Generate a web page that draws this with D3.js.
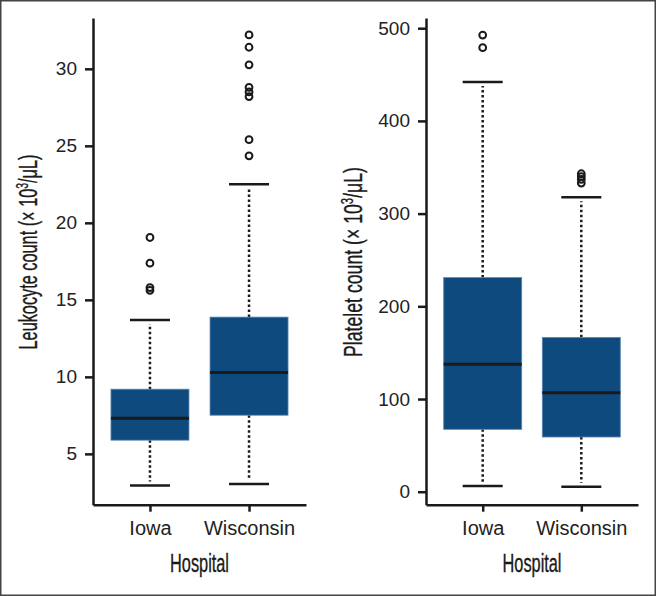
<!DOCTYPE html>
<html>
<head>
<meta charset="utf-8">
<script src="https://cdn.jsdelivr.net/npm/d3@7"></script>
<style>
  body { margin: 0; background: #fff; }
  svg { display: block; }
  .axis path, .axis line { stroke: #1a1a1a; stroke-width: 2.5; }
  .axis text { font-family: "Liberation Sans", Arimo, Arial, Helvetica, sans-serif; fill: #222; }
  .axis-title { font-family: "Liberation Sans", Arial, sans-serif; fill: #1a1a1a; stroke: #1a1a1a; stroke-width: 0.35; }
</style>
</head>
<body>
<svg></svg>
<script>
// Box plots: leukocyte and platelet counts by hospital

// Data
var hospitals = ["Iowa", "Wisconsin"];

var leukoLow    = [2.95, 3.05],
    leukoQ1     = [5.89, 7.51],
    leukoMedian = [7.32, 10.28],
    leukoQ3     = [9.2, 13.88],
    leukoHigh   = [13.7, 22.5];
var leukoOutliers = [
  [19.05, 17.38, 15.8, 15.62],
  [32.2, 31.4, 30.26, 28.8, 28.5, 28.2, 25.4, 24.35]
];
var leukoTicks = [5, 10, 15, 20, 25, 30];

var plateletLow    = [6.1, 5.4],
    plateletQ1     = [67.3, 59],
    plateletMedian = [137.4, 106.8],
    plateletQ3     = [231, 166.5],
    plateletHigh   = [442, 317.6];
var plateletOutliers = [
  [492.6, 479],
  [343, 340, 337, 333]
];
var plateletTicks = [0, 100, 200, 300, 400, 500];

// Layout
var svgWidth = 656,
    svgHeight = 596,
    plotTop = 18,
    plotBottom = 504.7,
    boxWidth = 78,
    capWidth = 40,
    titleSize = 25,
    boxColor = "#0f4a7f",
    inkColor = "#1a1a1a";

var svg = d3.select("svg")
  .attr("width", svgWidth)
  .attr("height", svgHeight);

// thin frame round the figure
svg.append("rect")
  .attr("x", 0.75).attr("y", 0.75)
  .attr("width", svgWidth - 1.5).attr("height", svgHeight - 1.5)
  .attr("fill", "none")
  .attr("stroke", "#444")
  .attr("stroke-width", 1.5);

drawPanel({
  left: 93, right: 306,
  domain: [1.7, 33.3],
  ticks: leukoTicks,
  low: leukoLow, q1: leukoQ1, median: leukoMedian, q3: leukoQ3, high: leukoHigh,
  outliers: leukoOutliers,
  titleX: 37, titleY: 252, titleLen: 195,
  title: "Leukocyte count (\u00d7 10"
});

drawPanel({
  left: 426, right: 638,
  domain: [-14, 511],
  ticks: plateletTicks,
  low: plateletLow, q1: plateletQ1, median: plateletMedian, q3: plateletQ3, high: plateletHigh,
  outliers: plateletOutliers,
  titleX: 362, titleY: 262, titleLen: 190,
  title: "Platelet count (\u00d7 10"
});

// squeeze a text to a given width (the original uses a narrow face)
function fitWidth(sel, len, baseTransform) {
  var w = sel.node().getBBox().width;
  sel.attr("transform", baseTransform + " scale(" + (len / w) + ",1)");
}

function drawPanel(cfg) {
  var y = d3.scaleLinear().domain(cfg.domain).range([plotBottom, plotTop]);
  var x = d3.scalePoint().domain(hospitals).range([cfg.left, cfg.right]).padding(0.575);

  var g = svg.append("g");

  // y axis
  g.append("g")
    .attr("class", "axis")
    .attr("transform", "translate(" + cfg.left + ",0)")
    .call(d3.axisLeft(y).tickValues(cfg.ticks).tickSize(8).tickSizeOuter(0).tickPadding(8))
    .selectAll("text").style("font-size", "19px");

  // x axis
  g.append("g")
    .attr("class", "axis")
    .attr("transform", "translate(0," + plotBottom + ")")
    .call(d3.axisBottom(x).tickSize(7).tickSizeOuter(0).tickPadding(9))
    .selectAll("text").style("font-size", "20px");

  var stats = hospitals.map(function (h, i) {
    return {
      name: h, low: cfg.low[i], q1: cfg.q1[i], median: cfg.median[i],
      q3: cfg.q3[i], high: cfg.high[i], outliers: cfg.outliers[i]
    };
  });

  var boxes = g.selectAll(".box")
    .data(stats)
    .enter()
      .append("g")
      .classed("box", true)
      .attr("transform", function (d) { return "translate(" + x(d.name) + ",0)"; });

  // dotted whiskers
  boxes.append("line")
    .attr("y1", function (d) { return y(d.q3); })
    .attr("y2", function (d) { return y(d.high) + 4; })
    .attr("stroke", inkColor).attr("stroke-width", 2.5).attr("stroke-dasharray", "2.5,2.5");
  boxes.append("line")
    .attr("y1", function (d) { return y(d.q1); })
    .attr("y2", function (d) { return y(d.low) - 4; })
    .attr("stroke", inkColor).attr("stroke-width", 2.5).attr("stroke-dasharray", "2.5,2.5");

  // caps
  boxes.selectAll(".cap")
    .data(function (d) { return [d.low, d.high]; })
    .enter()
      .append("line")
      .classed("cap", true)
      .attr("x1", -capWidth / 2).attr("x2", capWidth / 2)
      .attr("y1", function (v) { return y(v); })
      .attr("y2", function (v) { return y(v); })
      .attr("stroke", inkColor).attr("stroke-width", 2.5);

  // box
  boxes.append("rect")
    .attr("x", -boxWidth / 2)
    .attr("width", boxWidth)
    .attr("y", function (d) { return y(d.q3); })
    .attr("height", function (d) { return y(d.q1) - y(d.q3); })
    .attr("fill", boxColor)
    .attr("stroke", "#5d87b5")
    .attr("stroke-width", 0.8);

  // median
  boxes.append("line")
    .attr("x1", -boxWidth / 2).attr("x2", boxWidth / 2)
    .attr("y1", function (d) { return y(d.median); })
    .attr("y2", function (d) { return y(d.median); })
    .attr("stroke", inkColor).attr("stroke-width", 3);

  // outliers
  boxes.selectAll(".outlier")
    .data(function (d) { return d.outliers; })
    .enter()
      .append("circle")
      .classed("outlier", true)
      .attr("cy", function (v) { return y(v); })
      .attr("r", 3.4)
      .attr("fill", "none")
      .attr("stroke", inkColor)
      .attr("stroke-width", 2);

  // axis titles
  var base = "translate(" + [cfg.titleX, cfg.titleY] + ") rotate(-90)";
  var t = g.append("text")
    .classed("axis-title", true)
    .attr("text-anchor", "middle")
    .attr("font-size", titleSize)
    .attr("transform", base);
  t.append("tspan").text(cfg.title);
  t.append("tspan").attr("dy", -9).attr("font-size", 16).text("3");
  t.append("tspan").attr("dy", 9).text("/\u03bcL)");
  fitWidth(t, cfg.titleLen, base);

  var hBase = "translate(" + [(cfg.left + cfg.right) / 2, 572] + ")";
  var h = g.append("text")
    .classed("axis-title", true)
    .attr("text-anchor", "middle")
    .attr("font-size", titleSize)
    .attr("transform", hBase)
    .text("Hospital");
  fitWidth(h, 59, hBase);
}
</script>
</body>
</html>
